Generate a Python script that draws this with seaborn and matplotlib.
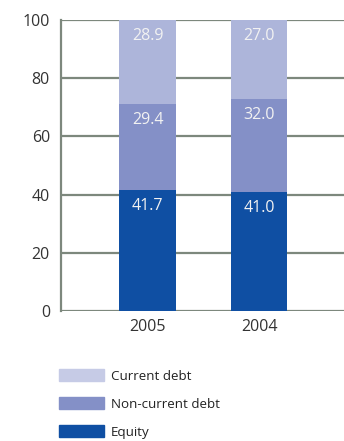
import matplotlib
matplotlib.use("Agg")
import matplotlib.pyplot as plt
import seaborn as sns
import pandas as pd
from matplotlib.patches import Patch

years = ["2005", "2004"]
equity = [41.7, 41.0]
non_current_debt = [29.4, 32.0]
current_debt = [28.9, 27.0]

col_equity = "#0f4fa3"
col_noncur = "#8490c7"
col_cur = "#adb5da"
grid_col = "#7d887d"

sns.set_style("white")
plt.rcParams["font.family"] = ["Open Sans", "DejaVu Sans"]

df = pd.DataFrame({"Year": years, "Equity": equity,
                   "NonCurrent": non_current_debt, "Current": current_debt})
df["Mid"] = df["Equity"] + df["NonCurrent"]
df["Top"] = df["Mid"] + df["Current"]

fig = plt.figure(figsize=(3.44, 4.41), dpi=100)
ax = fig.add_axes([61 / 344, 1 - 311 / 441, 283 / 344, 291 / 441])

ax.yaxis.grid(True, color=grid_col, linewidth=1.6, zorder=0)
ax.set_axisbelow(True)

# stacked bars: draw the cumulative totals, tallest first
for col, c, z in [("Top", col_cur, 2), ("Mid", col_noncur, 3), ("Equity", col_equity, 4)]:
    sns.barplot(data=df, x="Year", y=col, color=c, width=0.51, saturation=1,
                linewidth=0, ax=ax, zorder=z)

for i, row in df.iterrows():
    for top, val in [(row["Top"], row["Current"]), (row["Mid"], row["NonCurrent"]),
                     (row["Equity"], row["Equity"])]:
        ax.annotate(f"{val:.1f}", (i, top), xytext=(0, -11.5), textcoords="offset points",
                    ha="center", va="center", color="#f2f2f2", fontsize=11.5, zorder=5)

ax.set_xlim(-0.776, 1.762)
ax.set_ylim(0, 100)
ax.set_yticks([0, 20, 40, 60, 80, 100])
ax.set_xlabel("")
ax.set_ylabel("")
for s in ["top", "right", "bottom"]:
    ax.spines[s].set_visible(False)
ax.spines["left"].set_color(grid_col)
ax.spines["left"].set_linewidth(1.6)
ax.tick_params(axis="y", length=3, width=1.6, color=grid_col, labelsize=11.5, labelcolor="#333333", pad=5)
ax.tick_params(axis="x", length=0, labelsize=11.5, labelcolor="#333333", pad=6)

handles = [Patch(color="#c6cbe6", label="Current debt"),
           Patch(color=col_noncur, label="Non-current debt"),
           Patch(color=col_equity, label="Equity")]
fig.legend(handles=handles, loc="upper left", bbox_to_anchor=(47 / 344, 1 - 357 / 441),
           frameon=False, fontsize=9.6, handlelength=3.4, handleheight=1.0,
           labelspacing=1.1, handletextpad=0.5, labelcolor="#222222")

fig.savefig("out.png", dpi=100)
